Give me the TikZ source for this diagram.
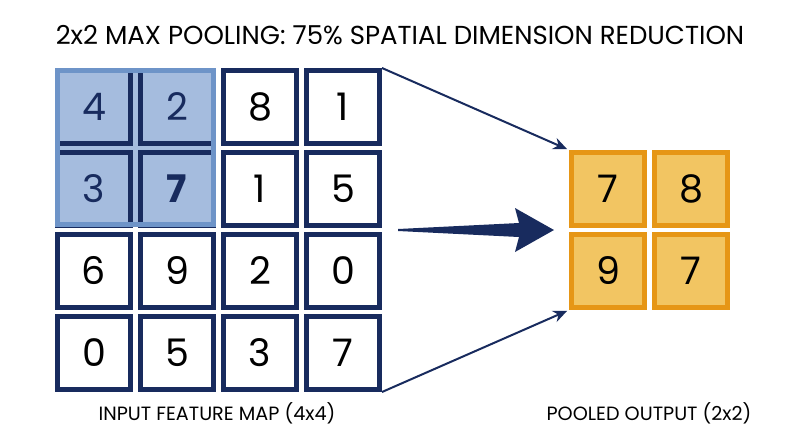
\documentclass[tikz,border=0pt]{standalone}
\usepackage{fontspec}
\setmainfont{Poppins}
\usepackage{tikz}
\usetikzlibrary{arrows.meta}
\definecolor{poolnavy}{RGB}{24,43,94}
\definecolor{poolhlfill}{RGB}{165,188,222}
\definecolor{poolhlline}{RGB}{110,148,200}
\definecolor{pooloutfill}{RGB}{242,197,98}
\definecolor{pooloutline}{RGB}{230,150,22}

\begin{document}
\begin{tikzpicture}[x=0.5pt,y=-0.5pt,
  cell/.style={draw=poolnavy,line width=2.5pt,fill=white,minimum size=36.5pt,inner sep=0pt,font=\fontsize{19}{19}\selectfont},
  hlcell/.style={cell,fill=poolhlfill,text=poolnavy},
  outcell/.style={cell,draw=pooloutline,fill=pooloutfill},
  link/.style={draw=poolnavy,line width=1pt,-{Stealth[length=7pt,width=6pt]},shorten >=1pt},
  caption/.style={font=\fontsize{9.6}{12}\selectfont}]
\useasboundingbox (0,0) rectangle (800,447);

\node (title) at (400,35) {\fontsize{13}{15}\selectfont 2x2 MAX POOLING: 75\% SPATIAL DIMENSION REDUCTION};

% input map, top left window highlighted
\fill[poolhlfill] (55,68) rectangle (216,227);
\foreach \v [count=\k from 0] in {4,2,8,1,3,{\textbf{7}},1,5,6,9,2,0,0,5,3,7}{
  \pgfmathtruncatemacro\r{div(\k,4)+1}
  \pgfmathtruncatemacro\c{mod(\k,4)+1}
  \ifnum\r<3 \ifnum\c<3 \def\sty{hlcell}\else\def\sty{cell}\fi\else\def\sty{cell}\fi
  \node[\sty] (c\r\c) at ({94+83*(\c-1)},{107+82*(\r-1)}) {\v};
}
\draw[poolhlline,line width=2.5pt] (57.5,70.5) rectangle (213.5,224.5);

% pooled output
\node[outcell] (o11) at (608,189) {7};
\node[outcell] (o12) at (691,189) {8};
\node[outcell] (o21) at (608,271) {9};
\node[outcell] (o22) at (691,271) {7};

\draw[link] (c14.north east) -- (o11.north west);
\draw[link] (c44.south east) -- (o21.south west);
\fill[poolnavy] (398,229) -- (519,223) -- (515,208) -- (554,230) -- (515,252) -- (519,237) -- (398,231) -- cycle;

\node[caption] (inlabel) at (217,413) {INPUT FEATURE MAP (4x4)};
\node[caption] (outlabel) at (649,413) {POOLED OUTPUT (2x2)};
\end{tikzpicture}
\end{document}
